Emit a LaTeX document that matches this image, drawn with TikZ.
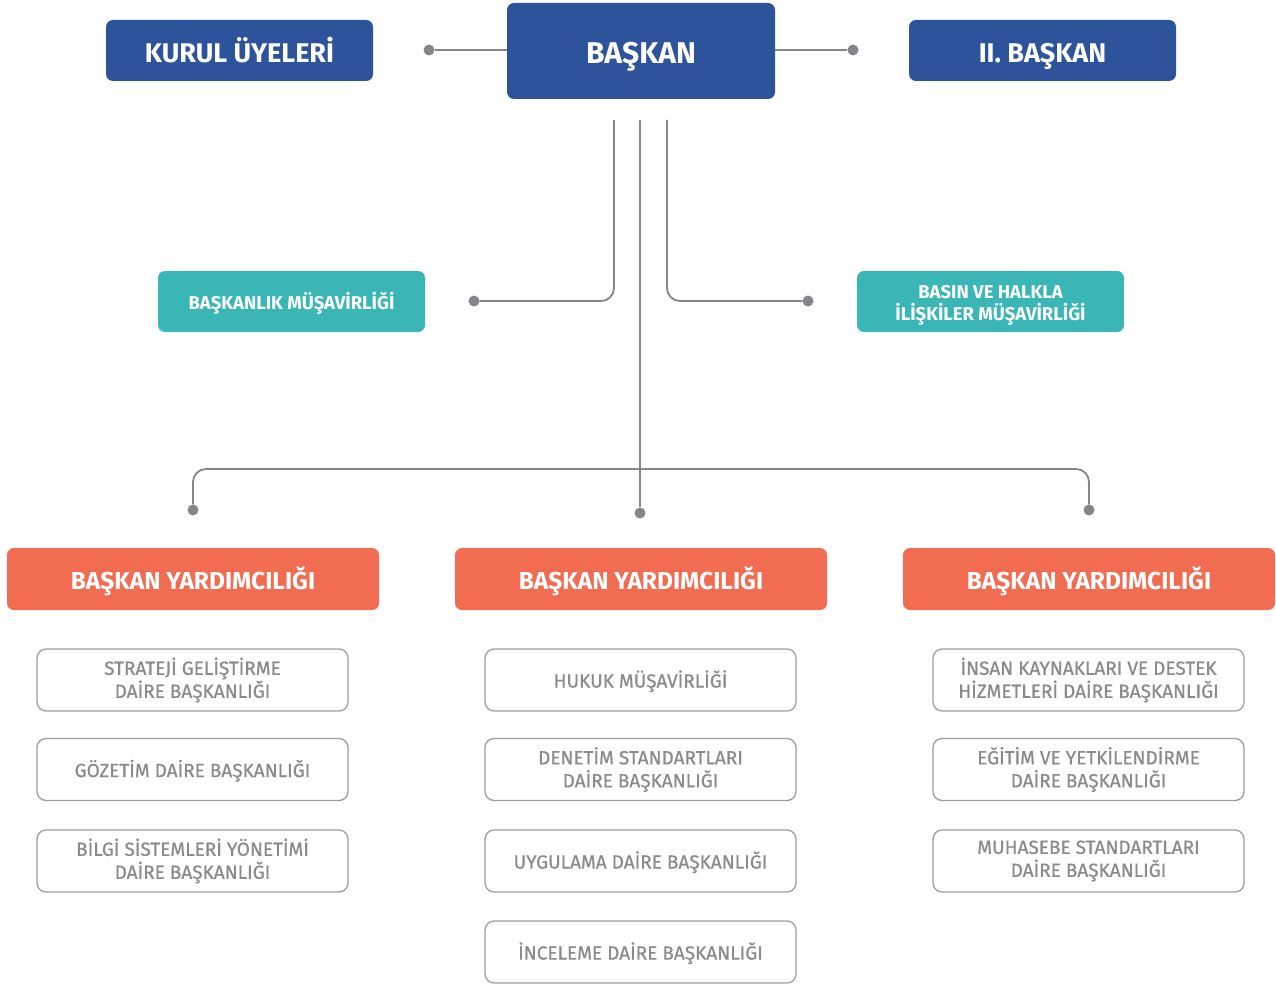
\documentclass[tikz,border=0pt]{standalone}
\usepackage{fontspec}
\setmainfont{Fira Sans}
\newfontfamily\medfont{Fira Sans}[FakeBold=0.6]
\definecolor{navy}{HTML}{2D539B}
\definecolor{tealbox}{HTML}{3AB6B6}
\definecolor{coral}{HTML}{F26C51}
\definecolor{txtgray}{HTML}{8A8A8D}
\definecolor{linegray}{HTML}{85858A}
\begin{document}
\begin{tikzpicture}[x=1pt,y=-1pt,
  capc/.style={text height=#1, text depth=0pt},
  navybox/.style={fill=navy, rounded corners=7pt, text=white, inner sep=0pt, capc=24.6pt,
    font=\bfseries\fontsize{27}{31}\selectfont, minimum width=267pt, minimum height=61pt},
  tealnode/.style={fill=tealbox, rounded corners=7pt, text=white, inner sep=0pt, align=center,
    font=\bfseries\fontsize{18.5}{22}\selectfont, minimum width=267pt, minimum height=61pt},
  coralbox/.style={fill=coral, rounded corners=7pt, text=white, inner sep=0pt, capc=20.9pt,
    font=\bfseries\fontsize{24.5}{28}\selectfont, minimum width=372pt, minimum height=62pt},
  unitbox/.style={draw=txtgray!85, line width=1.3pt, rounded corners=9pt, text=txtgray, inner sep=0pt, align=center,
    font=\medfont\fontsize{19}{23}\selectfont, minimum width=311pt, minimum height=62pt},
  dot/.style={circle, fill=linegray, inner sep=0pt, minimum size=11pt},
  conn/.style={draw=linegray, line width=1.8pt}]
\useasboundingbox (0,0) rectangle (1276,984);
% top row
\node[navybox] (kurul) at (239.5,50.5) {KURUL ÜYELERİ};
\node[navybox, minimum width=268pt, minimum height=96pt, capc=24.7pt, font=\bfseries\fontsize{30}{34}\selectfont] (baskan) at (641,51) {BAŞKAN};
\node[navybox] (iibaskan) at (1042.5,50.5) {II. BAŞKAN};
\node[dot] (dk) at (429,50) {};
\node[dot] (di) at (853,50) {};
\draw[conn] (dk) -- (baskan.west |- dk);
\draw[conn] (baskan.east |- di) -- (di);
% advisors
\node[tealnode, capc=15.8pt] (musavir) at (291.5,301.5) {BAŞKANLIK MÜŞAVİRLİĞİ};
\node[tealnode] (basin) at (990.5,301.5) {\rule{0pt}{21pt}BASIN VE HALKLA\\İLİŞKİLER MÜŞAVİRLİĞİ};
\node[dot] (dm) at (474,301) {};
\node[dot] (db) at (808,301) {};
\coordinate (s1) at (614,120);
\coordinate (s2) at (640,120);
\coordinate (s3) at (667,120);
\draw[conn, rounded corners=13pt] (s1) |- (dm);
\draw[conn, rounded corners=13pt] (s3) |- (db);
% vice presidents
\node[dot] (dl) at (193,510) {};
\node[dot] (dc) at (640,513) {};
\node[dot] (dr) at (1089,510) {};
\coordinate (hub) at (640,469);
\draw[conn] (s2) -- (dc);
\draw[conn, rounded corners=13pt] (dl) |- (hub) -| (dr);
\node[coralbox] (vp1) at (193,579) {BAŞKAN YARDIMCILIĞI};
\node[coralbox] (vp2) at (641,579) {BAŞKAN YARDIMCILIĞI};
\node[coralbox] (vp3) at (1089,579) {BAŞKAN YARDIMCILIĞI};
% units col 1
\node[unitbox] (u11) at (192.5,680) {STRATEJİ GELİŞTİRME\\DAİRE BAŞKANLIĞI};
\node[unitbox, capc=15.1pt] (u12) at (192.5,769.5) {GÖZETİM DAİRE BAŞKANLIĞI};
\node[unitbox] (u13) at (192.5,861) {BİLGİ SİSTEMLERİ YÖNETİMİ\\DAİRE BAŞKANLIĞI};
% col 2
\node[unitbox, capc=15.1pt] (u21) at (640.5,680) {HUKUK MÜŞAVİRLİĞİ};
\node[unitbox] (u22) at (640.5,769.5) {DENETİM STANDARTLARI\\DAİRE BAŞKANLIĞI};
\node[unitbox, capc=15.1pt] (u23) at (640.5,861) {UYGULAMA DAİRE BAŞKANLIĞI};
\node[unitbox, capc=15.1pt] (u24) at (640.5,952) {İNCELEME DAİRE BAŞKANLIĞI};
% col 3
\node[unitbox] (u31) at (1088.5,680) {İNSAN KAYNAKLARI VE DESTEK\\HİZMETLERİ DAİRE BAŞKANLIĞI};
\node[unitbox] (u32) at (1088.5,769.5) {EĞİTİM VE YETKİLENDİRME\\DAİRE BAŞKANLIĞI};
\node[unitbox] (u33) at (1088.5,861) {MUHASEBE STANDARTLARI\\DAİRE BAŞKANLIĞI};
\end{tikzpicture}
\end{document}
